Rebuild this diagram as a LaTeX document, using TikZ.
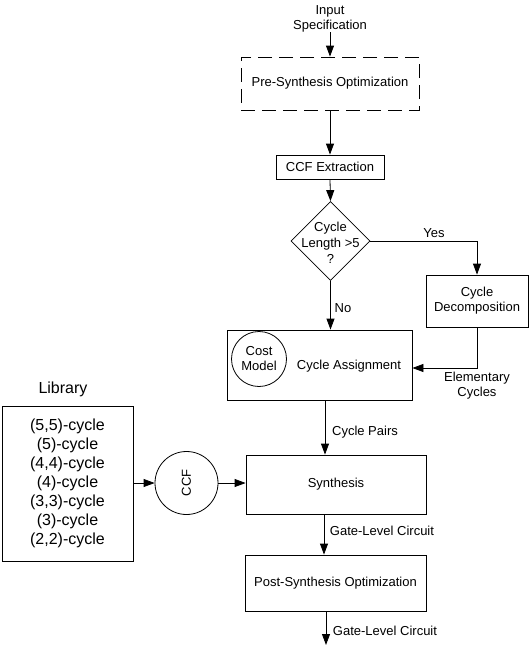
\documentclass[tikz,border=0pt]{standalone}
\usepackage{fontspec}
\setmainfont{Liberation Sans}
\usetikzlibrary{arrows.meta,shapes.geometric}
\begin{document}
\begin{tikzpicture}[x=1pt,y=-1pt,
  every node/.style={font=\fontsize{13}{15}\selectfont, inner sep=0pt},
  boxnode/.style={draw, line width=0.8pt, rectangle},
  txt/.style={align=center},
  arr/.style={line width=0.8pt, -{Triangle[length=11pt,width=8pt]}},
  ln/.style={line width=0.8pt}
]
\useasboundingbox (0,0) rectangle (529,654);

% top
\node[txt] (inspec) at (330,18.5) {Input\\Specification};
\node[boxnode, dash pattern=on 14pt off 7pt, minimum width=178, minimum height=53] (pre) at (330,83.5) {Pre-Synthesis Optimization};
\node[boxnode, minimum width=108, minimum height=24] (ccfx) at (330,167) {CCF Extraction};
\node[draw, line width=0.8pt, diamond, minimum width=79, minimum height=79] (dia) at (330.5,241) {};
\node[txt, font=\fontsize{13}{16}\selectfont] (diat) at (330.5,243) {Cycle\\Length >5\\?};

\node[boxnode, minimum width=102, minimum height=52, txt] (decomp) at (477,301) {Cycle\\Decomposition};

\node[boxnode, minimum width=185, minimum height=70] (assign) at (319.5,365) {};
\node (assignt) at (349,366) {Cycle Assignment};
\node[draw, line width=0.8pt, circle, minimum size=55, txt] (cost) at (259,359) {Cost\\Model};

\node[boxnode, minimum width=180, minimum height=59] (synth) at (336,484.5) {Synthesis};
\node[boxnode, minimum width=181, minimum height=56] (post) at (335.5,583) {Post-Synthesis Optimization};

% library
\node[font=\fontsize{16}{19}\selectfont] (libl) at (63,389) {Library};
\node[boxnode, minimum width=131, minimum height=155, txt, font=\fontsize{16}{19}\selectfont] (lib) at (67.5,483.5)
  {(5,5)-cycle\\(5)-cycle\\(4,4)-cycle\\(4)-cycle\\(3,3)-cycle\\(3)-cycle\\(2,2)-cycle};
\node[draw, line width=0.8pt, circle, minimum size=63] (ccfc) at (186.5,483) {};
\node[rotate=90] (ccft) at (186.5,483) {CCF};

% labels
\node (yes) at (434,233) {Yes};
\node (no) at (343,308) {No};
\node[txt] (elem) at (477,386) {Elementary\\Cycles};
\node (cpairs) at (365,432) {Cycle Pairs};
\node (glc1) at (382,531) {Gate-Level Circuit};
\node (glc2) at (385,631) {Gate-Level Circuit};

% coordinates
\coordinate (inTop) at (330,32);
\coordinate (cpTop) at (325,400);
\coordinate (glTop) at (324,514);
\coordinate (outTop) at (326,611);
\coordinate (outEnd) at (326,645);

% connectors
\draw[arr] (inTop) -- (pre.north);
\draw[arr] (pre.south) -- (ccfx.north);
\draw[arr] (ccfx.south) -- (dia.north);
\draw[arr] (dia.east) -| (decomp.north);
\draw[arr] (dia.south) -- (dia.south |- assign.north);
\draw[arr] (decomp.south) |- ([yshift=-3pt]assign.east);
\draw[arr] (cpTop) -- (cpTop |- synth.north);
\draw[arr] (glTop) -- (glTop |- post.north);
\draw[arr] (outTop) -- (outEnd);
\draw[arr] (lib.east |- ccfc.west) -- (ccfc.west);
\draw[arr] (ccfc.east) -- (synth.west |- ccfc.east);
\end{tikzpicture}
\end{document}
